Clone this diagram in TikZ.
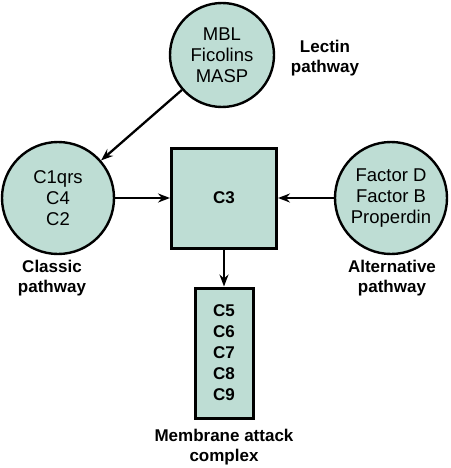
\documentclass[tikz,border=0pt]{standalone}
\usepackage{fontspec}
\setmainfont{Liberation Sans}
\usetikzlibrary{arrows.meta}
\definecolor{tealfill}{RGB}{190,221,212}
\begin{document}
\begin{tikzpicture}[x=1pt,y=-1pt,
  every node/.style={font=\fontsize{17}{20}\selectfont, align=center, inner sep=0pt},
  comp/.style={circle, draw=black, line width=2.4pt, fill=tealfill, minimum size=112pt, font=\fontsize{18.5}{21}\selectfont},
  boxnode/.style={rectangle, draw=black, line width=3pt, fill=tealfill},
  lbl/.style={font=\fontsize{17}{20}\selectfont\bfseries},
  arr/.style={line width=2.3pt, -{Stealth[length=12pt,width=9pt,inset=4pt]}}
]
\useasboundingbox (0,0) rectangle (450,468);
\node[comp, minimum size=104pt] (lectin) at (222,55) {MBL\\Ficolins\\MASP};
\node[comp] (classic) at (58,198) {C1qrs\\C4\\C2};
\node[comp] (alt) at (391,198) {Factor D\\Factor B\\Properdin};
\node[boxnode, minimum width=105pt, minimum height=100pt, font=\fontsize{17}{20}\selectfont\bfseries] (c3) at (224,198) {C3};
\node[boxnode, minimum width=58pt, minimum height=130pt, font=\fontsize{17}{21}\selectfont\bfseries] (mac) at (224,353) {C5\\C6\\C7\\C8\\C9};
\node[lbl] (llectin) at (325,58) {Lectin\\pathway};
\node[lbl] (lclassic) at (52,278) {Classic\\pathway};
\node[lbl] (lalt) at (392,278) {Alternative\\pathway};
\node[lbl] (lmac) at (224,447) {Membrane attack\\complex};
\draw[arr] (lectin) -- (classic);
\draw[arr] (classic) -- (c3);
\draw[arr] (alt) -- (c3);
\draw[arr] (c3) -- (mac);
\end{tikzpicture}
\end{document}
